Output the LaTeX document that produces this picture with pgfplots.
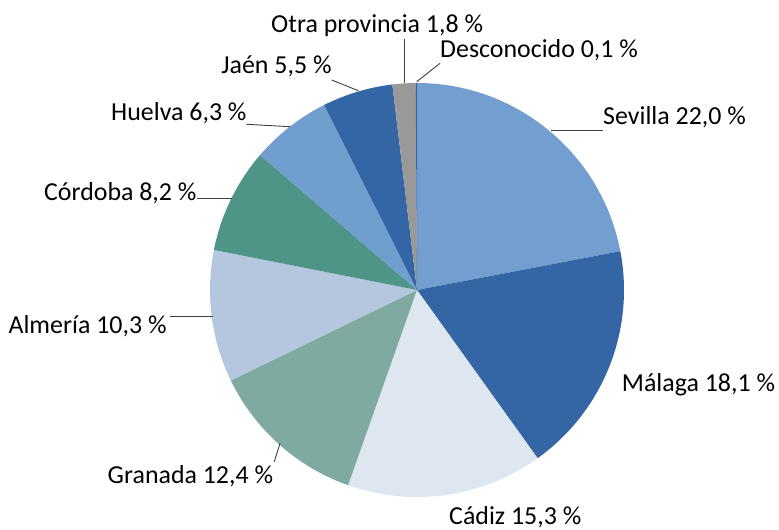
\documentclass[border=0pt]{standalone}
\usepackage{pgfplots}
\pgfplotsset{compat=1.18}
\usepackage{pgfplotstable}
\usepackage{fontspec}
\setmainfont{Carlito}
\definecolor{cSev}{RGB}{114,159,207}
\definecolor{cMal}{RGB}{52,101,164}
\definecolor{cCad}{RGB}{222,230,240}
\definecolor{cGra}{RGB}{127,170,162}
\definecolor{cAlm}{RGB}{180,199,222}
\definecolor{cCor}{RGB}{78,148,135}
\definecolor{cHue}{RGB}{112,158,207}
\definecolor{cJae}{RGB}{52,101,164}
\definecolor{cOtr}{RGB}{153,153,153}
\definecolor{cDes}{RGB}{52,101,164}
\definecolor{cLead}{RGB}{64,64,64}
\tikzset{lab/.style={font=\fontsize{26}{30}\selectfont, inner sep=0pt, text=black}}

\pgfplotstableread{
name value col
Sevilla 22.0 cSev
Malaga 18.1 cMal
Cadiz 15.3 cCad
Granada 12.4 cGra
Almeria 10.3 cAlm
Cordoba 8.2 cCor
Huelva 6.3 cHue
Jaen 5.5 cJae
Otra 1.8 cOtr
Desconocido 0.1 cDes
}\piedata

\begin{document}
\begin{tikzpicture}
\begin{axis}[
  scale only axis, width=779bp, height=530bp,
  xmin=0, xmax=779, ymin=0, ymax=530,
  hide axis, clip=false,
]
\pgfplotsextra{
  \gdef\curang{90}
  \foreach \i in {0,...,9}{
    \pgfplotstablegetelem{\i}{value}\of\piedata \let\sliceval\pgfplotsretval
    \pgfplotstablegetelem{\i}{col}\of\piedata \let\slicecol\pgfplotsretval
    \pgfmathsetmacro\endang{\curang-3.6*\sliceval}
    \fill[fill=\slicecol] (axis cs:417,240) -- ++(\curang:207bp)
      arc[start angle=\curang, end angle=\endang, radius=207bp] -- cycle;
    \xdef\curang{\endang}
  }
}
% leader lines
\draw[cLead, line width=0.9bp] (axis cs:404.3,491) -- (axis cs:404.3,447);
\draw[cLead, line width=0.9bp] (axis cs:416.7,448.3) -- (axis cs:440,466.7);
\draw[cLead, line width=0.9bp] (axis cs:331.7,450) -- (axis cs:358.3,439.3);
\draw[cLead, line width=0.9bp] (axis cs:246.7,405.7) -- (axis cs:290,403.3);
\draw[cLead, line width=0.9bp] (axis cs:197,331.7) -- (axis cs:231.7,331.7);
\draw[cLead, line width=0.9bp] (axis cs:170,214) -- (axis cs:213,214);
\draw[cLead, line width=0.9bp] (axis cs:274.3,68.3) -- (axis cs:280,86.7);
\draw[cLead, line width=0.9bp] (axis cs:550.7,400) -- (axis cs:603.3,400);
% labels
\node[lab, anchor=base west] at (axis cs:271,497.7) {Otra provincia 1,8 \%};
\node[lab, anchor=base west] at (axis cs:440,472.7) {Desconocido 0,1 \%};
\node[lab, anchor=base east] at (axis cs:331.7,456) {Jaén 5,5 \%};
\node[lab, anchor=base east] at (axis cs:246.7,409.3) {Huelva 6,3 \%};
\node[lab, anchor=base east] at (axis cs:196.7,330) {Córdoba 8,2 \%};
\node[lab, anchor=base east] at (axis cs:166.7,196.7) {Almería 10,3 \%};
\node[lab, anchor=base east] at (axis cs:273.3,46.7) {Granada 12,4 \%};
\node[lab, anchor=base west] at (axis cs:603,405) {Sevilla 22,0 \%};
\node[lab, anchor=base west] at (axis cs:621.7,138.3) {Málaga 18,1 \%};
\node[lab, anchor=base west] at (axis cs:449,5.5) {Cádiz 15,3 \%};
\end{axis}
\pgfresetboundingbox
\useasboundingbox (0,0) rectangle (779bp,530bp);
\end{tikzpicture}
\end{document}
